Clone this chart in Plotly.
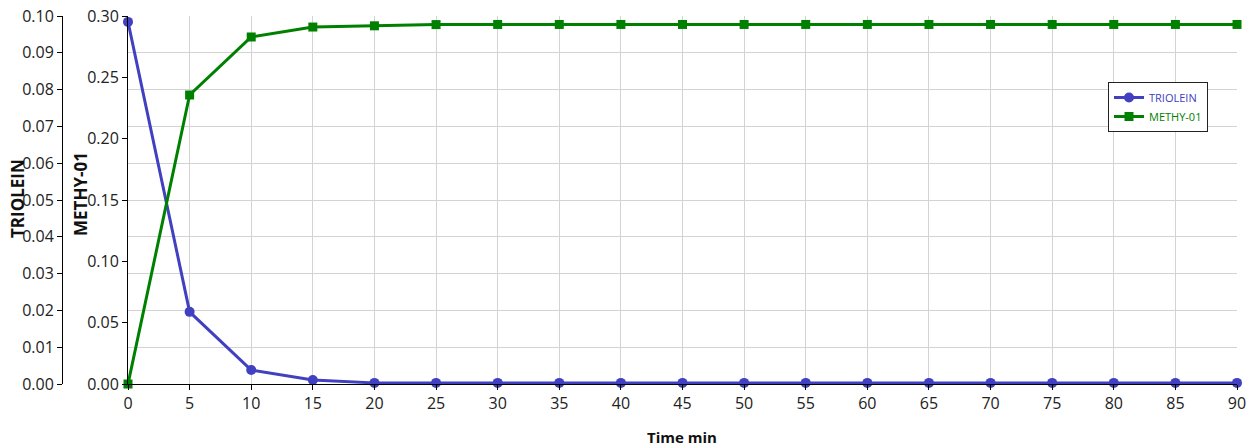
import plotly.graph_objects as go

time_min = [0, 5, 10, 15, 20, 25, 30, 35, 40, 45, 50, 55, 60, 65, 70, 75, 80, 85, 90]
triolein = [0.0984, 0.0196, 0.0038, 0.0011, 0.0003, 0.0003, 0.0003, 0.0003, 0.0003, 0.0003,
            0.0003, 0.0003, 0.0003, 0.0003, 0.0003, 0.0003, 0.0003, 0.0003, 0.0003]
methy01 = [0.0, 0.2356, 0.2829, 0.2910, 0.2920, 0.2930, 0.2931, 0.2931, 0.2931, 0.2931,
           0.2931, 0.2931, 0.2931, 0.2931, 0.2931, 0.2931, 0.2931, 0.2931, 0.2931]

BLUE = "#4040C0"
GREEN = "#008000"
FONT = "Open Sans"

W, H = 1255, 448
L, R, T, B = 0, 18, 16, 64
PW = W - L - R
PH = H - T - B


def px(x):
    return (x - L) / PW


def py(y):
    return 1 - (y - T) / PH


fig = go.Figure()
fig.add_trace(go.Scatter(
    x=time_min, y=triolein, name=f"<span style='color:{BLUE}'>TRIOLEIN</span>",
    mode="lines+markers", line=dict(color=BLUE, width=3),
    marker=dict(symbol="circle", size=10, color=BLUE), cliponaxis=False, yaxis="y"))
fig.add_trace(go.Scatter(
    x=time_min, y=methy01, name=f"<span style='color:{GREEN}'>METHY-01</span>",
    mode="lines+markers", line=dict(color=GREEN, width=3),
    marker=dict(symbol="square", size=9, color=GREEN), cliponaxis=False, yaxis="y2"))

axis_common = dict(showline=True, linecolor="black", linewidth=1, ticks="outside",
                   ticklen=5, tickcolor="black", tickfont=dict(family=FONT, size=16, color="#222"),
                   zeroline=False, automargin=False)

fig.update_layout(
    width=W, height=H, margin=dict(l=L, r=R, t=T, b=B, autoexpand=False),
    paper_bgcolor="white", plot_bgcolor="white",
    font=dict(family=FONT, color="#222"),
    xaxis=dict(domain=[px(128), 1], range=[0, 90], tickmode="linear", tick0=0, dtick=5,
               showgrid=True, gridcolor="#D3D3D3", gridwidth=1, **axis_common),
    yaxis=dict(range=[0, 0.1], tickmode="linear", tick0=0, dtick=0.01, tickformat=".2f",
               anchor="free", position=px(62), side="left",
               showgrid=True, gridcolor="#D3D3D3", gridwidth=1, **axis_common),
    yaxis2=dict(range=[0, 0.3], tickmode="linear", tick0=0, dtick=0.05, tickformat=".2f",
                anchor="x", overlaying="y", side="left", showgrid=False, **axis_common),
    showlegend=True,
    legend=dict(x=px(1108), y=py(82), xanchor="left", yanchor="top",
                bgcolor="white", bordercolor="#222", borderwidth=1,
                font=dict(family=FONT, size=11), itemwidth=30,
                tracegroupgap=2),
    annotations=[
        dict(text="<b>TRIOLEIN</b>", xref="paper", yref="paper", x=px(18), y=py(199),
             textangle=-90, showarrow=False, font=dict(family=FONT, size=17, color="#111"),
             xanchor="center", yanchor="middle"),
        dict(text="<b>METHY-01</b>", xref="paper", yref="paper", x=px(80), y=py(194),
             textangle=-90, showarrow=False, font=dict(family=FONT, size=17, color="#111"),
             xanchor="center", yanchor="middle"),
        dict(text="<b>Time min</b>", xref="paper", yref="paper", x=px(682), y=py(437),
             showarrow=False, font=dict(family=FONT, size=15, color="#111"),
             xanchor="center", yanchor="middle"),
    ],
)

fig.write_html("out.html", config={"displayModeBar": False})

with open("out.html", "r", encoding="utf-8") as f:
    html = f.read()
html = html.replace("<head>", "<head><style>html,body{margin:0;padding:0;overflow:hidden;}</style>", 1)
with open("out.html", "w", encoding="utf-8") as f:
    f.write(html)
